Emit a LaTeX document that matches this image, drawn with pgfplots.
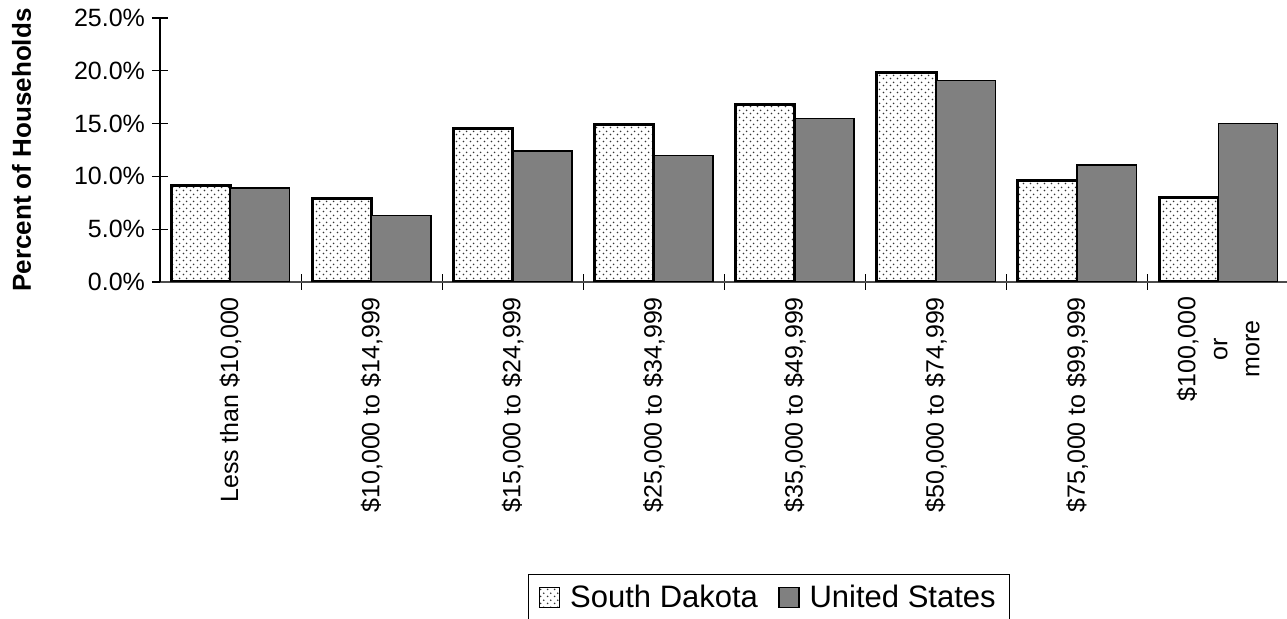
\documentclass[border=0pt]{standalone}
\usepackage{pgfplots}
\pgfplotsset{compat=1.18}
\usepackage{fontspec}
\setmainfont{Liberation Sans}
\usetikzlibrary{patterns,patterns.meta}

\pgfdeclarepattern{
  name=sdots, type=uncolored,
  bottom left={\pgfpoint{0pt}{0pt}}, top right={\pgfpoint{3.5pt}{3.5pt}},
  tile size={\pgfpoint{3.5pt}{3.5pt}},
  code={
    \pgfpathcircle{\pgfpoint{0.875pt}{0.875pt}}{0.5pt}
    \pgfpathcircle{\pgfpoint{2.625pt}{2.625pt}}{0.5pt}
    \pgfusepath{fill}
  }
}

\begin{document}
\begin{tikzpicture}
\useasboundingbox (-80pt,-168.5pt) rectangle (563.5pt,141pt);
\begin{axis}[
  at={(0pt,0pt)}, anchor=south west,
  scale only axis, width=563.5pt, height=132pt,
  xmin=-0.5, xmax=7.487, ymin=0, ymax=25,
  axis x line*=bottom, axis y line*=left,
  axis line style={-},
  x axis line style={draw=gray!60!black, line width=0.6pt},
  y axis line style={draw=black, line width=0.6pt},
  ybar=0pt, bar width=29.6pt,
  tick align=center, major tick length=8pt,
  tick style={black, line width=0.6pt},
  /pgf/number format/assume math mode=true,
  ytick={0,5,...,25},
  yticklabel={\pgfmathprintnumber[fixed,fixed zerofill,precision=1]{\tick}\%},
  yticklabel style={font=\fontsize{12.5}{15}\selectfont},
  xtick={0.5,1.5,...,6.5}, xticklabels={},
  extra x ticks={0,1,...,7},
  extra x tick labels={{Less than \$10,000}, {\$10,000 to \$14,999}, {\$15,000 to \$24,999},
    {\$25,000 to \$34,999}, {\$35,000 to \$49,999}, {\$50,000 to \$74,999},
    {\$75,000 to \$99,999}, {\$100,000\\or\\more}},
  extra x tick style={tick style={draw=none},
    tick label style={rotate=90, anchor=east, align=center,
      font=\fontsize{12.5}{16}\selectfont}},
  ylabel={Percent of Households},
  every axis y label/.style={at={(axis description cs:-0.1145,0.5)},
    rotate=90, anchor=base, font=\fontsize{13}{15}\selectfont\bfseries},
  legend columns=2,
  legend style={at={(0.3265,-1.106)}, anchor=north west, draw=black,
    line width=0.6pt, font=\fontsize{15.5}{18}\selectfont,
    inner xsep=5pt, inner ysep=3pt,
    /tikz/every odd column/.append style={column sep=3pt},
    /tikz/every even column/.append style={column sep=8pt}},
  legend image code/.code={\draw[#1, line width=0.8pt] (0pt,-5pt) rectangle (10pt,5pt);},
]
\addplot[draw=black, line width=1.5pt, pattern=sdots, pattern color=black!80]
  coordinates {(0,9.1) (1,7.9) (2,14.5) (3,14.9) (4,16.8) (5,19.8) (6,9.6) (7,8.0)};
\addlegendentry{South Dakota}
\addplot[draw=black, line width=0.75pt, fill=gray]
  coordinates {(0,8.9) (1,6.3) (2,12.4) (3,12.0) (4,15.5) (5,19.1) (6,11.1) (7,15.0)};
\addlegendentry{United States}
\end{axis}
\end{tikzpicture}
\end{document}
